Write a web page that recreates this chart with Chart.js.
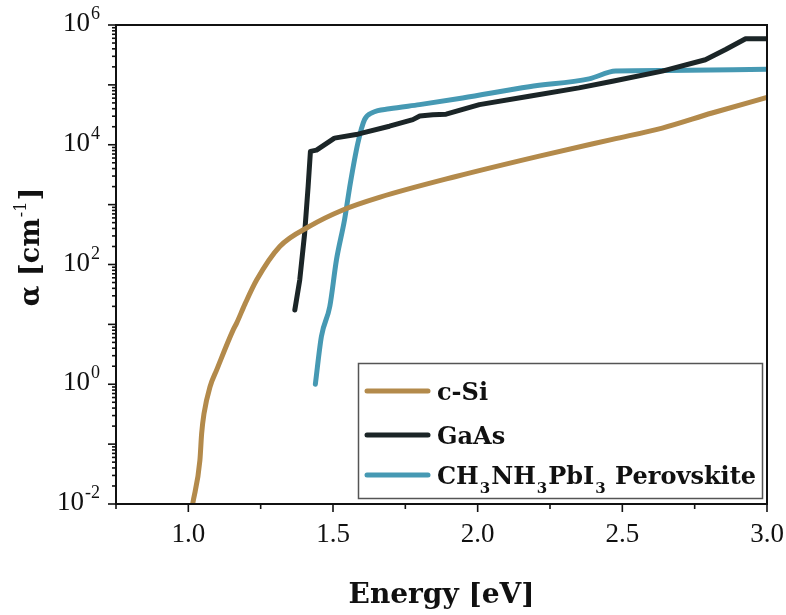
<!DOCTYPE html>
<html>
<head>
<meta charset="utf-8">
<script src="https://cdn.jsdelivr.net/npm/chart.js@4.4.1/dist/chart.umd.min.js"></script>
<style>
  html, body { margin: 0; padding: 0; background: #fff; }
  canvas { display: block; }
</style>
</head>
<body>
<canvas id="absChart" width="786" height="615"></canvas>
<script>
// absorption coefficient (alpha in cm^-1, energy in eV)
const siEnergy = [1.015, 1.040, 1.046, 1.054, 1.075, 1.098, 1.155, 1.167, 1.196, 1.236, 1.316, 1.42, 1.534, 1.66, 1.925, 2.213, 2.466, 2.638, 2.81, 3.0];
const siAlpha = [0.01, 0.054, 0.15, 0.32, 0.91, 1.74, 8.1, 10.5, 22, 55, 200, 437, 813, 1320, 2950, 6460, 12300, 19000, 33900, 61700];

const gaasEnergy = [1.368, 1.385, 1.402, 1.414, 1.422, 1.443, 1.505, 1.58, 1.603, 1.695, 1.776, 1.80, 1.845, 1.891, 2.006, 2.178, 2.35, 2.466, 2.638, 2.787, 2.857, 2.926, 3.0];
const gaasAlpha = [17.4, 55, 331, 2000, 7760, 8130, 12900, 14800, 15800, 20400, 26300, 30200, 31600, 32400, 46800, 64600, 89100, 115000, 170000, 263000, 389000, 589000, 589000];

const perovEnergy = [1.439, 1.46, 1.489, 1.512, 1.54, 1.56, 1.586, 1.609, 1.638, 1.695, 1.799, 1.948, 2.178, 2.385, 2.477, 2.65, 3.0];
const perovAlpha = [1.0, 6.3, 20, 120, 562, 2290, 10700, 26300, 34700, 39800, 46800, 60300, 93300, 126000, 170000, 174000, 182000];

const seriesLabels = ['c-Si', 'GaAs', 'CH3NH3PbI3 Perovskite'];
const seriesColors = ['#b38a4b', '#1b2527', '#4699b3'];

const energyTickLabels = ['1.0', '1.5', '2.0', '2.5', '3.0'];
const alphaTickExponents = [-2, 0, 2, 4, 6];

function toPoints(xs, ys) {
  return xs.map((x, i) => ({ x: x, y: ys[i] }));
}

// draws the frame, outward ticks, tick labels with superscripts, y title and the legend box
const axesPlugin = {
  id: 'axesPlugin',
  afterDraw(chart) {
    const ctx = chart.ctx;
    const area = chart.chartArea;
    const xs = chart.scales.x;
    const ys = chart.scales.y;
    ctx.save();
    ctx.strokeStyle = '#111';
    ctx.lineWidth = 2;
    ctx.strokeRect(area.left, area.top, area.right - area.left, area.bottom - area.top);

    // x ticks
    ctx.lineWidth = 1.6;
    ctx.fillStyle = '#111';
    ctx.font = '27px "Liberation Serif"';
    ctx.textAlign = 'center';
    ctx.textBaseline = 'alphabetic';
    xs.ticks.forEach(t => {
      const px = xs.getPixelForValue(t.value);
      const label = t.value.toFixed(1);
      const major = energyTickLabels.includes(label);
      ctx.beginPath();
      ctx.moveTo(px, area.bottom);
      ctx.lineTo(px, area.bottom + (major ? 8 : 5));
      ctx.stroke();
      if (major) ctx.fillText(label, px, area.bottom + 38);
    });

    // y ticks
    ys.ticks.forEach(t => {
      const py = ys.getPixelForValue(t.value);
      const e = Math.log10(t.value);
      const decade = Math.abs(e - Math.round(e)) < 1e-6;
      ctx.beginPath();
      ctx.moveTo(area.left, py);
      ctx.lineTo(area.left - (decade ? 8 : 4), py);
      ctx.stroke();
      if (decade && alphaTickExponents.includes(Math.round(e))) {
        const sup = String(Math.round(e));
        ctx.font = '18px "Liberation Serif"';
        const wSup = ctx.measureText(sup).width;
        ctx.font = '27px "Liberation Serif"';
        const wBase = ctx.measureText('10').width;
        const right = area.left - 17;
        ctx.textAlign = 'left';
        ctx.fillText('10', right - wSup - wBase, py + 6);
        ctx.font = '18px "Liberation Serif"';
        ctx.fillText(sup, right - wSup + 1, py - 6);
      }
    });

    // y axis title with a real superscript
    ctx.save();
    ctx.translate(39, 247);
    ctx.rotate(-Math.PI / 2);
    ctx.textAlign = 'left';
    const mainFont = 'bold 27px "DejaVu Serif"';
    const supFont = '16px "DejaVu Serif"';
    ctx.font = mainFont;
    const wA = ctx.measureText('α [cm').width;
    const wC = ctx.measureText(']').width;
    ctx.font = supFont;
    const wB = ctx.measureText('-1').width;
    let tx = -(wA + wB + wC + 2) / 2;
    ctx.font = mainFont;
    ctx.fillText('α [cm', tx, 0);
    tx += wA + 1;
    ctx.font = supFont;
    ctx.fillText('-1', tx, -13);
    tx += wB + 1;
    ctx.font = mainFont;
    ctx.fillText(']', tx, 0);
    ctx.restore();

    // legend box
    const box = { x: 358.5, y: 363.5, w: 404, h: 135 };
    ctx.fillStyle = '#fff';
    ctx.fillRect(box.x, box.y, box.w, box.h);
    ctx.strokeStyle = '#555';
    ctx.lineWidth = 1.5;
    ctx.strokeRect(box.x, box.y, box.w, box.h);
    const rows = [391, 435, 475];
    chart.data.datasets.forEach((ds, i) => {
      const ry = rows[i];
      ctx.strokeStyle = ds.borderColor;
      ctx.lineWidth = 5;
      ctx.lineCap = 'round';
      ctx.beginPath();
      ctx.moveTo(367, ry);
      ctx.lineTo(428, ry);
      ctx.stroke();
      // label, digits drawn as subscripts
      let x = 437;
      const base = ry + 9;
      ctx.fillStyle = '#111';
      ctx.textAlign = 'left';
      const parts = ds.label.match(/\d+|\D+/g);
      parts.forEach(p => {
        if (/^\d+$/.test(p)) {
          ctx.font = 'bold 15px "DejaVu Serif"';
          ctx.fillText(p, x + 1, base + 9);
          x += ctx.measureText(p).width + 2;
        } else {
          ctx.font = 'bold 24px "DejaVu Serif"';
          ctx.fillText(p, x, base);
          x += ctx.measureText(p).width;
        }
      });
    });
    ctx.restore();
  }
};

const ctx = document.getElementById('absChart').getContext('2d');
const absChart = new Chart(ctx, {
  type: 'line',
  data: {
    datasets: [
      { label: seriesLabels[0], data: toPoints(siEnergy, siAlpha), borderColor: seriesColors[0], cubicInterpolationMode: 'monotone' },
      { label: seriesLabels[1], data: toPoints(gaasEnergy, gaasAlpha), borderColor: seriesColors[1] },
      { label: seriesLabels[2], data: toPoints(perovEnergy, perovAlpha), borderColor: seriesColors[2], cubicInterpolationMode: 'monotone' }
    ]
  },
  options: {
    responsive: false,
    animation: false,
    layout: { padding: { top: 25, right: 19, left: 0, bottom: 0 } },
    elements: {
      line: { borderWidth: 5, tension: 0, borderCapStyle: 'round', borderJoinStyle: 'round', fill: false },
      point: { radius: 0, hoverRadius: 0 }
    },
    datasets: { line: { clip: 0 } },
    plugins: {
      legend: { display: false },
      tooltip: { enabled: false }
    },
    scales: {
      x: {
        type: 'linear',
        min: 0.75,
        max: 3.0,
        ticks: { stepSize: 0.25, display: false },
        grid: { display: false },
        border: { display: false },
        title: {
          display: true,
          text: 'Energy [eV]',
          color: '#111',
          font: { family: '"DejaVu Serif"', size: 28, weight: 'bold' },
          padding: { top: 0, bottom: 2 }
        },
        afterFit(scale) {
          scale.height = 111;
          scale.paddingLeft = 0;
          scale.paddingRight = 0;
        }
      },
      y: {
        type: 'logarithmic',
        min: 0.01,
        max: 1e6,
        ticks: { display: false },
        grid: { display: false },
        border: { display: false },
        title: { display: false },
        afterBuildTicks(scale) {
          const ticks = [];
          for (let e = alphaTickExponents[0]; e < alphaTickExponents[alphaTickExponents.length - 1]; e++) {
            for (let m = 1; m < 10; m++) ticks.push({ value: m * Math.pow(10, e) });
          }
          ticks.push({ value: Math.pow(10, alphaTickExponents[alphaTickExponents.length - 1]) });
          scale.ticks = ticks;
        },
        afterFit(scale) {
          scale.width = 116;
          scale.paddingTop = 0;
          scale.paddingBottom = 0;
        }
      }
    }
  },
  plugins: [axesPlugin]
});
</script>
</body>
</html>
